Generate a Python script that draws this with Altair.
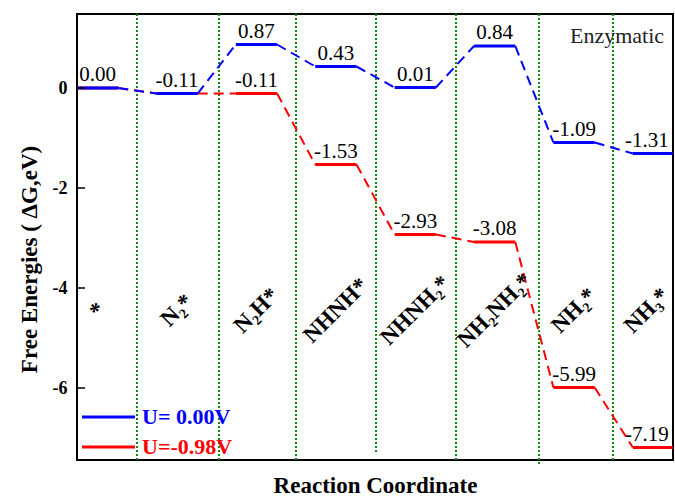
import altair as alt
import pandas as pd

# ---- data ----
states = ["*", "N₂*", "N₂H*", "NHNH*", "NHNH₂*", "NH₂NH₂*", "NH₂*", "NH₃*"]
g_u0 = [0.00, -0.11, 0.87, 0.43, 0.01, 0.84, -1.09, -1.31]
g_u098 = [0.00, -0.11, -0.11, -1.53, -2.93, -3.08, -5.99, -7.19]
red_label_from = 2  # red values of the first two states coincide with blue
dividers = [0.756, 1.788, 2.758, 3.766, 4.773, 5.819, 6.75]
divider_bottoms = [-7.44, -7.44, -7.47, -7.28, -7.44, -7.54, -7.44]
y_ticks = [-6, -4, -2, 0]
series_names = ["U= 0.00V", "U=-0.98V"]

Y_MIN, Y_MAX = -7.44, 1.48
X_MAX = 7.506
SEG = 0.52
NAME_Y = -4.45
LABEL_X_MAX = X_MAX - 0.33

BLUE = "#0000ff"
RED = "#ff0000"
GREEN = "#0a8a0a"
SERIF = "Liberation Serif"

W, H = 596, 446

xs = alt.Scale(domain=[0, X_MAX], nice=False, zero=False)
ys = alt.Scale(domain=[Y_MIN, Y_MAX], nice=False, zero=False)


def seg_df(vals):
    return pd.DataFrame({
        "x": [i for i in range(len(vals))],
        "x2": [min(i + SEG, X_MAX) for i in range(len(vals))],
        "xc": [min(i + SEG / 2, LABEL_X_MAX) for i in range(len(vals))],
        "y": vals,
        "lab": [f"{v:.2f}" for v in vals],
    })


def conn_df(vals):
    return pd.DataFrame({
        "x": [i + SEG for i in range(len(vals) - 1)],
        "x2": [i + 1 for i in range(len(vals) - 1)],
        "y": vals[:-1],
        "y2": vals[1:],
    })


blue_seg = seg_df(g_u0)
red_seg = seg_df(g_u098)
blue_conn = conn_df(g_u0)
red_conn = conn_df(g_u098)

div_df = pd.DataFrame({"x": dividers, "top": [Y_MAX] * len(dividers), "bottom": divider_bottoms})
names_df = pd.DataFrame({"xc": [min(i + SEG / 2, LABEL_X_MAX) for i in range(len(states))],
                         "y": [NAME_Y] * len(states), "name": states})
ticks_df = pd.DataFrame({"y": y_ticks})

X = lambda f: alt.X(f, type="quantitative", scale=xs, axis=alt.Axis(
    labels=False, ticks=False, domain=False, grid=False, title="Reaction Coordinate",
    titleFont=SERIF, titleFontSize=23, titleFontWeight="bold", titleColor="black",
    titlePadding=14))
Y = lambda f: alt.Y(f, type="quantitative", scale=ys, axis=alt.Axis(
    values=y_ticks, ticks=False, domain=False, grid=False,
    labelExpr="'' + datum.value", labelFont=SERIF, labelFontSize=18,
    labelFontWeight="bold", labelColor="black", labelPadding=10,
    title="Free Energies ( ΔG,eV)", titleFont=SERIF, titleFontSize=23,
    titleFontWeight="bold", titleColor="black", titlePadding=11, titleY=245))

dividers_layer = alt.Chart(div_df).mark_rule(
    color=GREEN, strokeWidth=2, strokeDash=[2, 2]).encode(
    x=X("x"), y=Y("top"), y2="bottom")

ticks_layer = alt.Chart(ticks_df).mark_rule(color="black", strokeWidth=1.5).encode(
    y=Y("y"), x=alt.value(0), x2=alt.value(8))


def series(seg, conn, color):
    c = alt.Chart(conn).mark_rule(color=color, strokeWidth=2, strokeDash=[10, 6]).encode(
        x=X("x"), x2="x2", y=Y("y"), y2="y2")
    s = alt.Chart(seg).mark_rule(color=color, strokeWidth=3, clip=True).encode(
        x=X("x"), x2="x2", y=Y("y"))
    return c + s


def value_labels(seg):
    return alt.Chart(seg).mark_text(
        font=SERIF, fontSize=21, color="black", baseline="alphabetic", dy=-7).encode(
        x=X("xc"), y=Y("y"), text="lab")


red_layer = series(red_seg, red_conn, RED)
blue_layer = series(blue_seg, blue_conn, BLUE)

labels = value_labels(blue_seg) + value_labels(red_seg.iloc[red_label_from:])

names_layer = alt.Chart(names_df).mark_text(
    font=SERIF, fontSize=23, fontWeight="bold", color="black", angle=315,
    align="center", baseline="middle").encode(
    x=X("xc"), y=Y("y"), text="name")

enz = alt.Chart(pd.DataFrame({"t": ["Enzymatic"]})).mark_text(
    font=SERIF, fontSize=22, color="#222222", align="left", baseline="alphabetic").encode(
    x=alt.value(493), y=alt.value(29), text="t")

legend = alt.Chart(pd.DataFrame({"a": [0]}))
leg = (
    legend.mark_rule(color=BLUE, strokeWidth=3).encode(x=alt.value(5), x2=alt.value(58), y=alt.value(403))
    + legend.mark_rule(color=RED, strokeWidth=3).encode(x=alt.value(5), x2=alt.value(58), y=alt.value(433))
    + legend.mark_text(font=SERIF, fontSize=22, fontWeight="bold", color=BLUE, align="left",
                       baseline="middle").encode(x=alt.value(65), y=alt.value(403), text=alt.value(series_names[0]))
    + legend.mark_text(font=SERIF, fontSize=22, fontWeight="bold", color=RED, align="left",
                       baseline="middle").encode(x=alt.value(65), y=alt.value(433), text=alt.value(series_names[1]))
)

chart = alt.layer(
    dividers_layer, red_layer, blue_layer, labels, names_layer, ticks_layer, enz, leg
).properties(
    width=W, height=H,
    autosize=alt.AutoSizeParams(type="none"),
    padding={"left": 77, "top": 14, "right": 2, "bottom": 39},
    background="white",
).configure_view(stroke="black", strokeWidth=2)

chart.save("out.html", embed_options={"renderer": "svg", "actions": False})
